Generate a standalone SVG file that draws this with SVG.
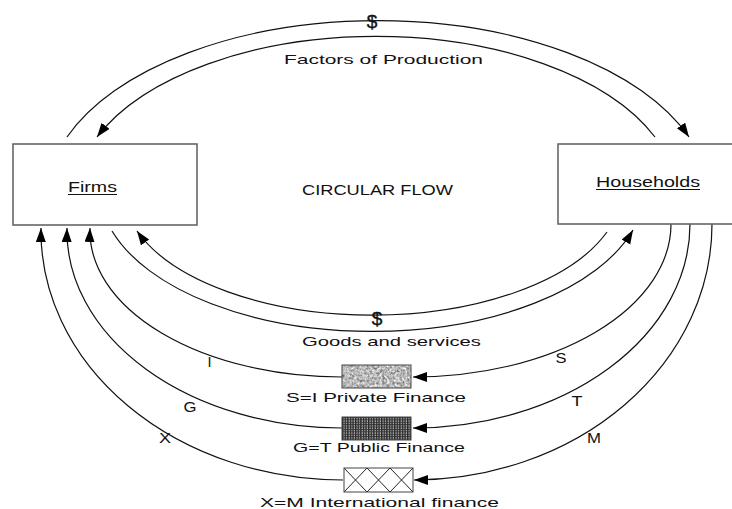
<svg xmlns="http://www.w3.org/2000/svg" width="732" height="509" viewBox="0 0 732 509">
<style>
  .box { fill: #fff; stroke: #666; stroke-width: 1.6; }
  .flow { fill: none; stroke: #111; stroke-width: 1.2; }
  .arr { marker-end: url(#ah); }
  text { font-family: "Liberation Sans", Arial, sans-serif; fill: #111; }
  .lbl { font-size: 13px; }
  .big { font-size: 14px; }
  .let { font-size: 14.5px; text-anchor: middle; }
  .dollar { font-size: 19px; text-anchor: middle; stroke: #111; stroke-width: 0.4; }
  .fbox { stroke: #444; stroke-width: 1; }
</style>
<defs>
  <marker id="ah" markerUnits="userSpaceOnUse" markerWidth="16" markerHeight="12" refX="14" refY="5" orient="auto">
    <path d="M0,0 L14,5 L0,10 z" fill="#000"/>
  </marker>
  <filter id="granite" x="0" y="0" width="1" height="1" color-interpolation-filters="sRGB">
    <feTurbulence type="fractalNoise" baseFrequency="0.4" numOctaves="3" seed="7" result="n"/>
    <feColorMatrix in="n" type="matrix" values="0.6 0.6 0 0 0.12  0.6 0.6 0 0 0.12  0.6 0.6 0 0 0.12  0 0 0 0 1" result="g"/>
    <feComposite in="g" in2="SourceGraphic" operator="in"/>
  </filter>
  <pattern id="mesh" patternUnits="userSpaceOnUse" x="342" y="417" width="2.6" height="2.4">
    <rect width="2.6" height="2.4" fill="#bbb"/>
    <rect x="0" y="0" width="1.4" height="2.4" fill="#222"/>
    <rect x="0" y="0" width="2.6" height="0.9" fill="#333"/>
  </pattern>
  <pattern id="cross" patternUnits="userSpaceOnUse" x="344" y="468" width="23" height="24">
    <rect width="23" height="24" fill="#fff"/>
    <path d="M0,0 L23,24 M0,24 L23,0" stroke="#222" stroke-width="1" fill="none"/>
  </pattern>
</defs>

<g id="connectors">
  <path class="flow arr" d="M67,137 A332,179 0 0 1 689,137"/>
  <path class="flow arr" d="M655,137 A302,163 0 0 0 97,137"/>
  <path class="flow arr" d="M112,231 A273,144 0 0 0 633,230"/>
  <path class="flow arr" d="M607,232 A250,127 0 0 1 137,231"/>
  <path class="flow arr" d="M342,377 A252,146 0 0 1 90,228"/>
  <path class="flow arr" d="M342,428 A275,197 0 0 1 67,228"/>
  <path class="flow arr" d="M343,480 A302,249 0 0 1 41,228"/>
  <path class="flow arr" d="M671,224 A258,153 0 0 1 413,377"/>
  <path class="flow arr" d="M690,224 A277,204 0 0 1 413,428"/>
  <path class="flow arr" d="M712,224 A299,256 0 0 1 414,480"/>
</g>

<g id="firms">
  <rect class="box" x="13" y="144" width="184" height="81"/>
  <text class="big" x="68" y="192" textLength="49" lengthAdjust="spacingAndGlyphs">Firms</text>
  <line x1="68" y1="194.5" x2="117" y2="194.5" stroke="#111" stroke-width="1"/>
</g>

<g id="households">
  <rect class="box" x="558" y="144" width="190" height="80"/>
  <text class="big" x="596" y="187" textLength="104" lengthAdjust="spacingAndGlyphs">Households</text>
  <line x1="596" y1="189.5" x2="700" y2="189.5" stroke="#111" stroke-width="1"/>
</g>

<g id="private-finance">
  <rect x="342" y="365" width="69" height="23" fill="#999" filter="url(#granite)"/>
  <rect class="fbox" x="342" y="365" width="69" height="23" fill="none"/>
  <text class="lbl" x="286" y="402" textLength="180" lengthAdjust="spacingAndGlyphs">S=I  Private Finance</text>
</g>

<g id="public-finance">
  <rect class="fbox" x="342" y="417" width="69" height="23" fill="url(#mesh)"/>
  <text class="lbl" x="293" y="452" textLength="172" lengthAdjust="spacingAndGlyphs">G=T Public Finance</text>
</g>

<g id="international-finance">
  <rect class="fbox" x="344" y="468" width="69" height="24" fill="url(#cross)"/>
  <text class="lbl" x="260" y="507" textLength="239" lengthAdjust="spacingAndGlyphs">X=M  International finance</text>
</g>

<g id="labels">
  <text class="dollar" x="372" y="28">$</text>
  <text class="lbl" x="284" y="64" textLength="199" lengthAdjust="spacingAndGlyphs">Factors of Production</text>
  <text class="big" x="302" y="195" textLength="151" lengthAdjust="spacingAndGlyphs">CIRCULAR FLOW</text>
  <text class="dollar" x="377" y="325">$</text>
  <text class="lbl" x="302" y="346" textLength="179" lengthAdjust="spacingAndGlyphs">Goods and services</text>
  <text class="let" x="209.5" y="367">I</text>
  <text class="let" x="190" y="412" textLength="13" lengthAdjust="spacingAndGlyphs">G</text>
  <text class="let" x="165" y="443" textLength="12" lengthAdjust="spacingAndGlyphs">X</text>
  <text class="let" x="561" y="363" textLength="11" lengthAdjust="spacingAndGlyphs">S</text>
  <text class="let" x="577" y="406" textLength="11" lengthAdjust="spacingAndGlyphs">T</text>
  <text class="let" x="594" y="443" textLength="14" lengthAdjust="spacingAndGlyphs">M</text>
</g>
</svg>
